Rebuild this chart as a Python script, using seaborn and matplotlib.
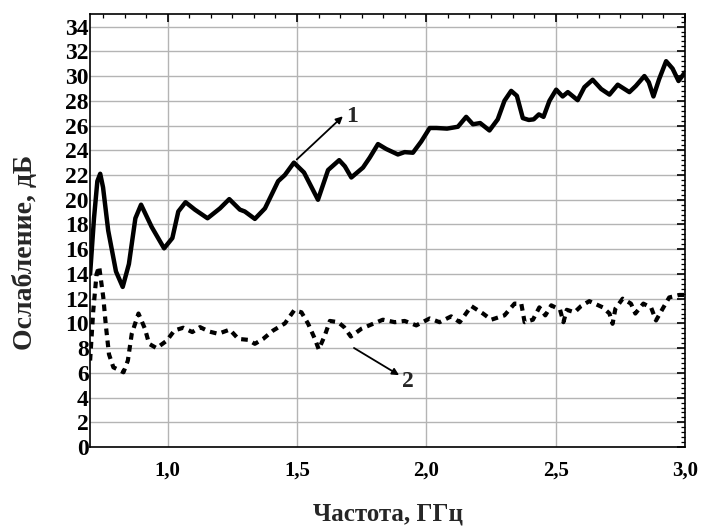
import matplotlib
matplotlib.use("Agg")
import matplotlib.pyplot as plt
import seaborn as sns
from matplotlib.ticker import MultipleLocator, FuncFormatter

# curve 1 (solid) - attenuation, dB
freq_1 = [0.700, 0.715, 0.728, 0.739, 0.750, 0.770, 0.800, 0.826, 0.850, 0.875, 0.897,
          0.938, 0.986, 1.018, 1.041, 1.069, 1.105, 1.154, 1.202, 1.238, 1.279, 1.298,
          1.337, 1.376, 1.427, 1.453, 1.488, 1.527, 1.581, 1.620, 1.663, 1.685, 1.710,
          1.755, 1.781, 1.813, 1.845, 1.890, 1.916, 1.948, 1.980, 2.013, 2.039, 2.080,
          2.122, 2.154, 2.180, 2.208, 2.244, 2.276, 2.302, 2.328, 2.350, 2.373, 2.396,
          2.415, 2.435, 2.453, 2.476, 2.502, 2.527, 2.547, 2.585, 2.611, 2.643, 2.676,
          2.708, 2.740, 2.785, 2.810, 2.843, 2.860, 2.878, 2.900, 2.927, 2.952, 2.975,
          3.000]
atten_1 = [14.0, 18.5, 21.5, 22.1, 21.0, 17.5, 14.2, 12.95, 14.8, 18.5, 19.6,
           17.8, 16.07, 16.9, 19.05, 19.8, 19.2, 18.5, 19.3, 20.05, 19.2, 19.05,
           18.45, 19.3, 21.5, 22.0, 23.0, 22.2, 20.0, 22.4, 23.2, 22.7, 21.8,
           22.6, 23.4, 24.5, 24.1, 23.66, 23.85, 23.8, 24.7, 25.8, 25.8, 25.75,
           25.9, 26.7, 26.1, 26.2, 25.6, 26.5, 28.0, 28.8, 28.4, 26.6, 26.45,
           26.5, 26.9, 26.7, 28.0, 28.9, 28.35, 28.7, 28.05, 29.1, 29.7, 28.95,
           28.5, 29.3, 28.7, 29.2, 30.0, 29.5, 28.35, 29.75, 31.2, 30.6, 29.6,
           30.3]

# curve 2 (dashed)
freq_2 = [0.700, 0.712, 0.725, 0.735, 0.751, 0.761, 0.773, 0.790, 0.829, 0.846, 0.861,
          0.887, 0.912, 0.928, 0.957, 0.996, 1.026, 1.060, 1.095, 1.125, 1.159, 1.195,
          1.240, 1.273, 1.311, 1.337, 1.369, 1.408, 1.453, 1.489, 1.517, 1.543, 1.569,
          1.584, 1.607, 1.627, 1.659, 1.682, 1.708, 1.749, 1.794, 1.832, 1.878, 1.916,
          1.961, 2.013, 2.051, 2.096, 2.129, 2.174, 2.219, 2.251, 2.302, 2.341, 2.367,
          2.380, 2.412, 2.437, 2.460, 2.483, 2.517, 2.530, 2.543, 2.573, 2.598, 2.630,
          2.682, 2.708, 2.720, 2.731, 2.759, 2.791, 2.808, 2.839, 2.869, 2.888, 2.914,
          2.939, 2.978, 3.000]
atten_2 = [7.0, 11.0, 14.0, 14.6, 12.1, 9.8, 7.5, 6.45, 6.05, 7.0, 9.16,
           10.8, 9.57, 8.35, 8.0, 8.6, 9.43, 9.65, 9.3, 9.7, 9.35, 9.16,
           9.5, 8.75, 8.67, 8.35, 8.75, 9.43, 10.0, 11.06, 10.9, 9.97, 8.75,
           7.9, 9.0, 10.2, 10.1, 9.7, 8.94, 9.57, 9.97, 10.3, 10.1, 10.2,
           9.84, 10.4, 10.1, 10.57, 10.1, 11.4, 10.8, 10.3, 10.65, 11.6, 11.6,
           10.1, 10.3, 11.3, 10.65, 11.46, 11.1, 10.1, 11.1, 10.9, 11.4, 11.8,
           11.3, 10.8, 9.97, 11.2, 12.0, 11.6, 10.8, 11.6, 11.28, 10.24, 11.2,
           12.1, 12.3, 12.3]

x_ticks = [1.0, 1.5, 2.0, 2.5, 3.0]
y_ticks = list(range(0, 35, 2))

sns.set_style("white")
plt.rcParams['font.family'] = ['Liberation Serif', 'DejaVu Serif']
plt.rcParams['font.weight'] = 'bold'

fig = plt.figure(figsize=(7.04, 5.26), dpi=100)
ax = fig.add_axes([0.128, 0.150, 0.845, 0.823])

sns.lineplot(x=freq_1, y=atten_1, ax=ax, color='black', linewidth=3.2)
sns.lineplot(x=freq_2, y=atten_2, ax=ax, color='black', linewidth=3.0,
             linestyle=(0, (1.6, 1.3)))

ax.set_xlim(0.7, 3.0)
ax.set_ylim(0, 35)
ax.set_xticks(x_ticks)
ax.set_yticks(y_ticks)
ax.xaxis.set_minor_locator(MultipleLocator(0.5 / 6))
ax.yaxis.set_minor_locator(MultipleLocator(0.4))
ax.xaxis.set_major_formatter(FuncFormatter(lambda v, p: f"{v:.1f}".replace('.', ',')))

ax.grid(True, which='major', color='#b4b4b4', linewidth=1.0)
ax.tick_params(which='both', direction='in', top=True, right=True, colors='black')
ax.tick_params(which='major', length=6, width=1.2)
ax.tick_params(which='minor', length=3, width=0.9)
ax.tick_params(axis='y', labelsize=17, pad=1)
ax.tick_params(axis='x', labelsize=15, pad=10)
for lbl in ax.get_xticklabels() + ax.get_yticklabels():
    lbl.set_fontweight('bold')
for s in ax.spines.values():
    s.set_color('black')
    s.set_linewidth(1.2)

ax.set_xlabel("Частота, ГГц", fontsize=18, fontweight='bold')
ax.xaxis.set_label_coords(0.50, -0.128)
ax.set_ylabel("Ослабление, дБ", fontsize=20, fontweight='bold')
ax.yaxis.set_label_coords(-0.088, 0.45)

# curve labels with arrows
ax.annotate("", xy=(1.685, 26.9), xytext=(1.491, 23.1),
            arrowprops=dict(arrowstyle='-|>', color='black', lw=1.3, mutation_scale=10))
ax.text(1.688, 26.7, "1", fontsize=17, fontweight='bold', va='center', ha='left')
ax.annotate("", xy=(1.904, 5.7), xytext=(1.711, 8.13),
            arrowprops=dict(arrowstyle='-|>', color='black', lw=1.3, mutation_scale=10))
ax.text(1.907, 5.3, "2", fontsize=17, fontweight='bold', va='center', ha='left')

plt.savefig("out.png", dpi=100)
